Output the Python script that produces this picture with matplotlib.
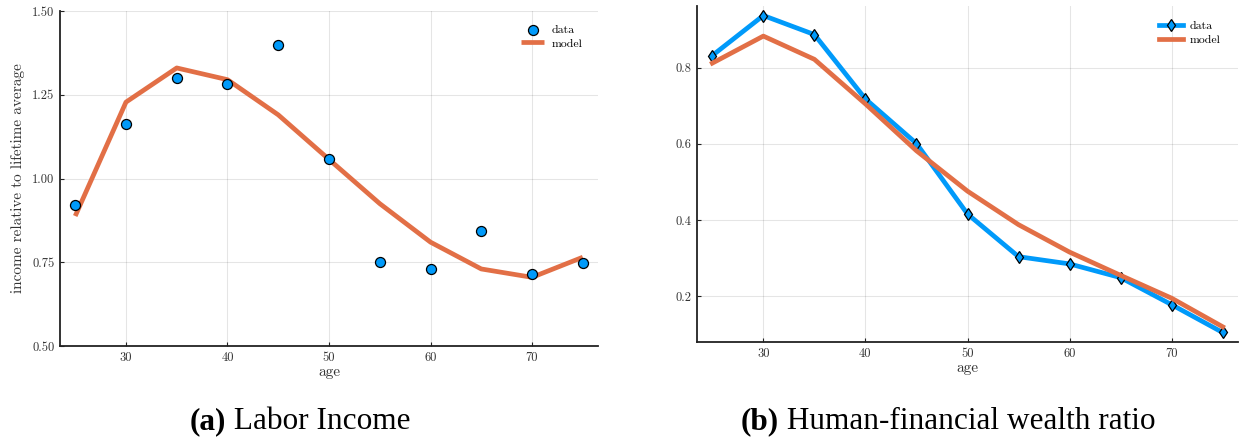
import matplotlib
matplotlib.use("Agg")
import matplotlib.pyplot as plt

ages = [25, 30, 35, 40, 45, 50, 55, 60, 65, 70, 75]

income_data = [0.920, 1.163, 1.300, 1.282, 1.400, 1.058, 0.750, 0.730, 0.842, 0.715, 0.748]
income_model = [0.888, 1.228, 1.330, 1.295, 1.190, 1.057, 0.925, 0.810, 0.730, 0.705, 0.765]

wealth_data = [0.832, 0.937, 0.887, 0.718, 0.601, 0.416, 0.304, 0.285, 0.249, 0.178, 0.105]
wealth_model = [0.812, 0.883, 0.822, 0.705, 0.582, 0.476, 0.388, 0.316, 0.255, 0.195, 0.120]

left_yticks = [0.50, 0.75, 1.00, 1.25, 1.50]
right_yticks = [0.2, 0.4, 0.6, 0.8]
xticks = [30, 40, 50, 60, 70]

BLUE = "#009AFA"
ORANGE = "#E26F46"

plt.rcParams["font.family"] = ["cmr10", "DejaVu Serif"]
plt.rcParams["axes.formatter.use_mathtext"] = True
plt.rcParams["mathtext.fontset"] = "cm"

W, H = 1241, 437
fig = plt.figure(figsize=(W / 100, H / 100), dpi=100)


def px_axes(l, t, r, b):
    return fig.add_axes([l / W, 1 - b / H, (r - l) / W, (b - t) / H])


def style(ax):
    for s in ["top", "right"]:
        ax.spines[s].set_visible(False)
    for s in ["left", "bottom"]:
        ax.spines[s].set_linewidth(1.3)
        ax.spines[s].set_color("#222222")
    ax.grid(True, color="#000000", alpha=0.1, linewidth=0.8)
    ax.set_axisbelow(True)
    ax.tick_params(direction="in", length=3, width=0.8, labelsize=9, colors="#222222",
                   labelcolor="#333333", pad=4)
    ax.set_xticks(xticks)
    ax.set_xticklabels([str(v) for v in xticks])
    ax.set_xlabel("age", fontsize=11, labelpad=1, color="#333333")


# Left panel
ax1 = px_axes(60, 11, 598, 346)
style(ax1)
ax1.scatter(ages, income_data, s=52, color=BLUE, edgecolors="black", linewidths=0.9,
            zorder=3, label="data")
ax1.plot(ages, income_model, color=ORANGE, linewidth=3.4, zorder=2, label="model",
         solid_capstyle="butt")
ax1.set_xlim(23.5, 76.5)
ax1.set_ylim(0.5, 1.5)
ax1.set_yticks(left_yticks)
ax1.set_yticklabels(["%.2f" % v for v in left_yticks])
ax1.set_ylabel("income relative to lifetime average", fontsize=11, labelpad=5, color="#333333")
ax1.legend(loc="upper right", frameon=False, fontsize=8.5, handlelength=2.0,
           handletextpad=0.6, borderaxespad=0.6, labelspacing=0.3,
           bbox_to_anchor=(0.993, 0.995))

# Right panel
ax2 = px_axes(697, 6, 1238, 342)
style(ax2)
ax2.plot(ages, wealth_data, color=BLUE, linewidth=3.4, marker="d", markersize=6,
         markerfacecolor=BLUE, markeredgecolor="black", markeredgewidth=0.9,
         zorder=2, label="data")
ax2.plot(ages, wealth_model, color=ORANGE, linewidth=3.4, zorder=3, label="model")
ax2.margins(x=0.03, y=0.03)
ax2.set_yticks(right_yticks)
ax2.set_yticklabels(["%.1f" % v for v in right_yticks])
ax2.legend(loc="upper right", frameon=False, fontsize=8.5, handlelength=2.0,
           handletextpad=0.6, borderaxespad=0.6, labelspacing=0.3,
           bbox_to_anchor=(0.99, 0.99))

# Captions
cap_font = "Liberation Serif"
for x, lab, txt in [(300, "(a)", " Labor Income"), (948, "(b)", " Human-financial wealth ratio")]:
    t1 = fig.text(0, 0, lab, fontsize=22.5, fontweight="bold", family=cap_font)
    t2 = fig.text(0, 0, txt, fontsize=22.5, family=cap_font)
    fig.canvas.draw()
    r = fig.canvas.get_renderer()
    w1 = t1.get_window_extent(r).width
    w2 = t2.get_window_extent(r).width
    start = x - (w1 + w2) / 2
    y = 1 - 429 / H
    t1.set_position((start / W, y))
    t2.set_position(((start + w1) / W, y))

fig.savefig("out.png", dpi=100)
